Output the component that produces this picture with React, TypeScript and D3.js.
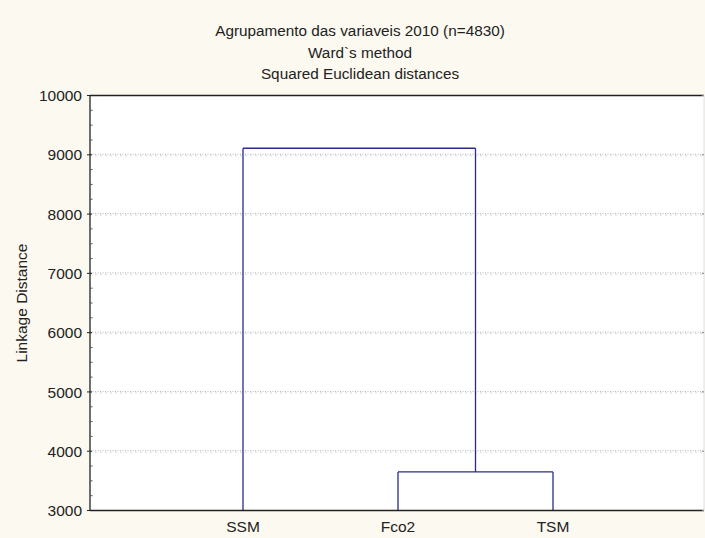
import React from "react";
import * as d3 from "d3";

// Leaves in display order and the agglomeration steps (Ward's method)
const leaves = ["SSM", "Fco2", "TSM"];
const mergeLeft = ["Fco2", "SSM"];
const mergeRight = ["TSM", "C1"];
const mergeName = ["C1", "C2"];
const mergeHeight = [3650, 9110];

const yTicks = [3000, 4000, 5000, 6000, 7000, 8000, 9000, 10000];
const titleLines = [
  "Agrupamento das variaveis 2010 (n=4830)",
  "Ward`s method",
  "Squared Euclidean distances",
];
const yLabel = "Linkage Distance";

const W = 705;
const H = 538;
const M = { left: 90, right: 704, top: 95.5, bottom: 510.5 };
const FONT = "'Liberation Sans', Arial, sans-serif";
const LINE = "#2b2b8c";

export default function App() {
  const x = d3.scalePoint<string>().domain(leaves).range([88, 708]).padding(1);
  const y = d3.scaleLinear().domain([3000, 10000]).range([M.bottom, M.top]);

  // position and height of each node
  const pos: Record<string, { x: number; h: number }> = {};
  leaves.forEach((l) => (pos[l] = { x: x(l) as number, h: 3000 }));
  const segs: { x1: number; y1: number; x2: number; y2: number }[] = [];
  mergeName.forEach((n, i) => {
    const a = pos[mergeLeft[i]];
    const b = pos[mergeRight[i]];
    const h = mergeHeight[i];
    segs.push({ x1: a.x, y1: y(a.h), x2: a.x, y2: y(h) });
    segs.push({ x1: b.x, y1: y(b.h), x2: b.x, y2: y(h) });
    segs.push({ x1: a.x, y1: y(h), x2: b.x, y2: y(h) });
    pos[n] = { x: (a.x + b.x) / 2, h };
  });

  const minor = d3.range(3000, 10000, 250).filter((v) => v % 1000 !== 0);

  return (
    <svg
      width={W}
      height={H}
      style={{ position: "absolute", left: 0, top: 0, background: "#fcf9f0" }}
      fontFamily={FONT}
    >
      <rect x={0} y={0} width={W} height={H} fill="#fcf9f0" />
      <rect x={M.left} y={M.top} width={M.right - M.left} height={M.bottom - M.top} fill="#ffffff" />

      {/* gridlines */}
      {yTicks.slice(1, -1).map((t) => (
        <g key={"g" + t}>
          <line x1={M.left} x2={M.right} y1={y(t) - 0.5} y2={y(t) - 0.5} stroke="#b4b4b4" strokeDasharray="1,1.5" />
          <line x1={M.left} x2={M.right} y1={y(t) + 1} y2={y(t) + 1} stroke="#d8d8d8" strokeDasharray="2,3" />
        </g>
      ))}

      {/* dendrogram */}
      {segs.map((s, i) => (
        <line key={i} x1={s.x1} y1={s.y1} x2={s.x2} y2={s.y2} stroke={LINE} strokeWidth={1.3} />
      ))}

      {/* frame */}
      <line x1={M.left} x2={M.right} y1={M.top} y2={M.top} stroke="#222" strokeWidth={1.5} />
      <line x1={M.left} x2={M.right} y1={M.bottom} y2={M.bottom} stroke="#222" strokeWidth={1.5} />
      <line x1={M.left} x2={M.left} y1={M.top} y2={M.bottom} stroke="#222" strokeWidth={1.3} />
      <line x1={M.right} x2={M.right} y1={M.top} y2={M.bottom} stroke="#e0e0e0" strokeWidth={1} />

      {/* y ticks */}
      {yTicks.map((t) => (
        <g key={"t" + t}>
          <line x1={M.left - 3} x2={M.left + 2} y1={y(t)} y2={y(t)} stroke="#222" />
          <line x1={M.right - 2} x2={M.right} y1={y(t)} y2={y(t)} stroke="#888" />
          <text x={M.left - 8} y={y(t)} dy="0.36em" textAnchor="end" fontSize={15.5} fill="#222">
            {t}
          </text>
        </g>
      ))}
      {minor.map((t) => (
        <line key={"m" + t} x1={M.left} x2={M.left + 2.5} y1={y(t)} y2={y(t)} stroke="#555" />
      ))}

      {/* x labels */}
      {leaves.map((l) => (
        <text key={l} x={x(l) as number} y={M.bottom + 21} textAnchor="middle" fontSize={15.5} fill="#222">
          {l}
        </text>
      ))}

      {/* y axis title */}
      <text
        transform={`translate(27,${(M.top + M.bottom) / 2 + 0}) rotate(-90)`}
        textAnchor="middle"
        fontSize={15.5}
        fill="#222"
      >
        {yLabel}
      </text>

      {/* title */}
      {titleLines.map((t, i) => (
        <text key={t} x={360} y={36 + i * 21.5} textAnchor="middle" fontSize={15.3} fill="#222">
          {t}
        </text>
      ))}
    </svg>
  );
}
